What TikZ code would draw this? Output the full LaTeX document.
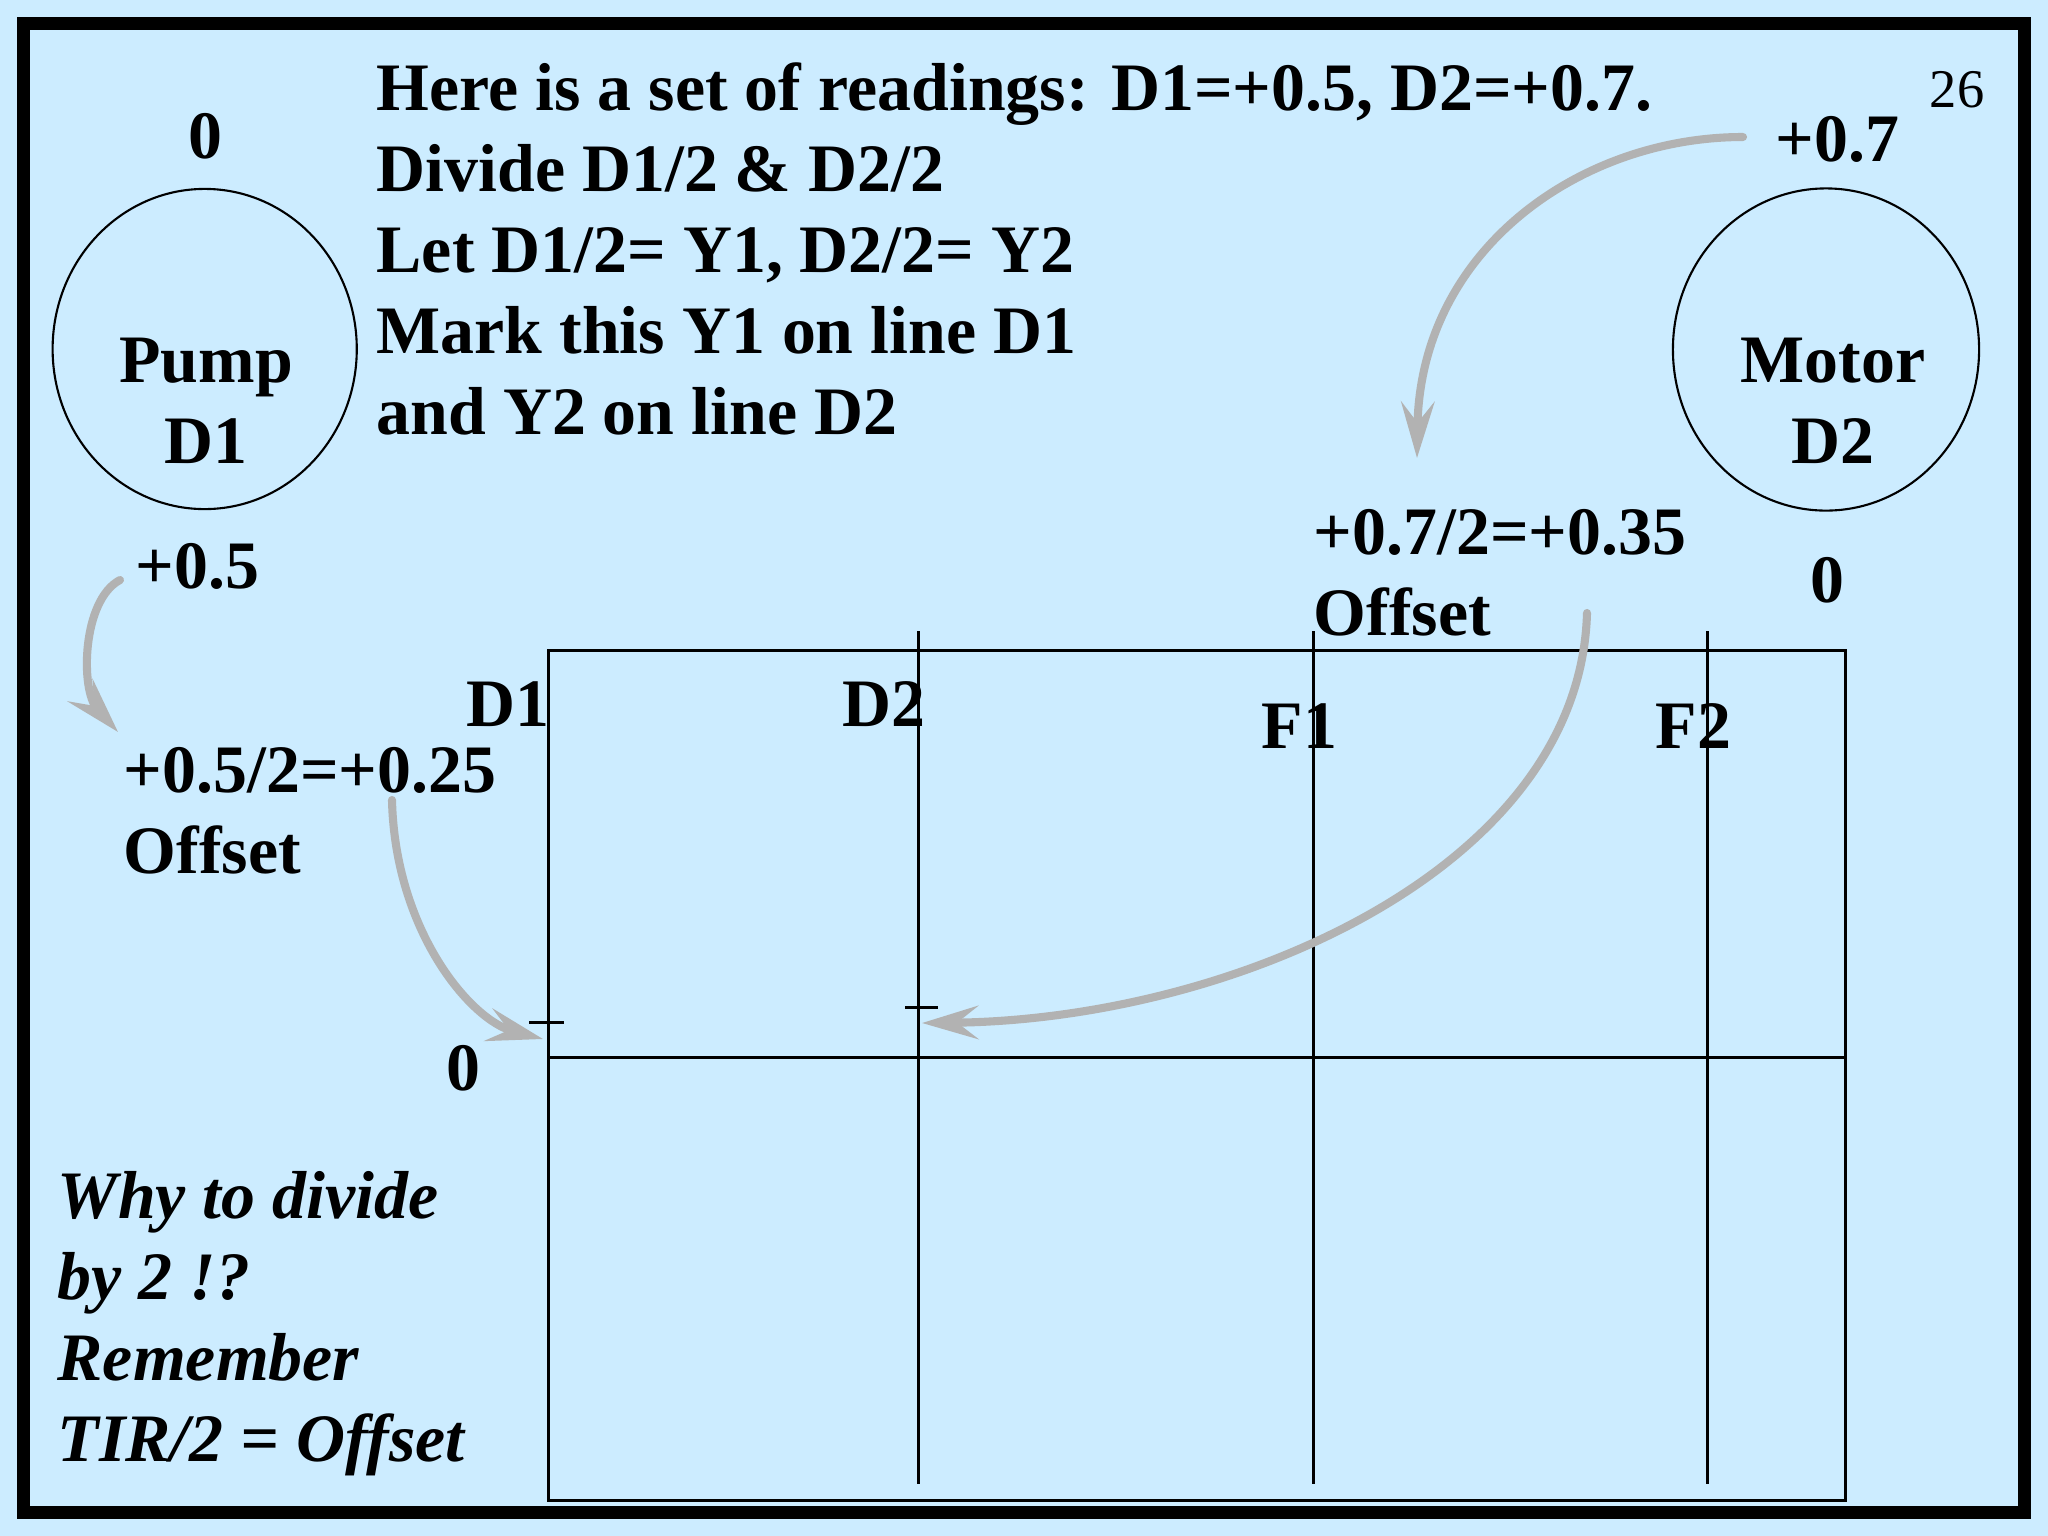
\documentclass[tikz,border=0pt]{standalone}
\usepackage{fontspec}
\setmainfont{Liberation Serif}
\usetikzlibrary{arrows.meta, shapes.geometric}

\definecolor{slideblue}{RGB}{204,236,255}
\definecolor{pointgray}{RGB}{178,178,178}

\tikzset{
  bigtxt/.style={font=\fontsize{19.3}{23}\selectfont\bfseries, inner sep=0pt},
  slanttxt/.style={font=\fontsize{19.3}{23}\selectfont\bfseries\itshape, inner sep=0pt},
  dial/.style={draw, ellipse, line width=0.6pt, inner sep=0pt},
  gridline/.style={line width=0.85pt},
  pointer/.style={draw=pointgray, line width=2.3pt, line cap=round,
    -{Stealth[length=16pt, width=9.5pt, inset=6pt]}}
}

\begin{document}
\begin{tikzpicture}[x=0.01cm, y=-0.01cm]
    \useasboundingbox (0,0) rectangle (2048,1536);
    \fill[slideblue] (0,0) rectangle (2048,1536);
    \draw[line width=0.13cm] (23.5,23.5) rectangle (2024.5,1512.5);

    % the readings (base = last line)
    \node[bigtxt, anchor=base west, align=left] (steps) at (376,434)
        {Here is a set of readings: D1=+0.5, D2=+0.7.\\Divide D1/2 \& D2/2\\Let D1/2= Y1, D2/2= Y2\\Mark this Y1 on line D1\\and Y2 on line D2};
    \node[font=\fontsize{15.5}{18}\selectfont, inner sep=0pt, anchor=base east] (slideno) at (1985,107) {26};

    % pump and motor
    \node[dial, minimum width=3.04cm, minimum height=3.2cm] (pump) at (204.7,349) {};
    \node[dial, minimum width=3.06cm, minimum height=3.22cm] (motor) at (1826,349.5) {};
    \node[bigtxt, align=center, anchor=base] (pumpname) at (206,463) {Pump\\D1};
    \node[bigtxt, align=center, anchor=base] (motorname) at (1833,463) {Motor\\D2};
    \node[bigtxt, anchor=base] (pumptop) at (205,158) {0};
    \node[bigtxt, anchor=base west] (pumpread) at (135,588) {+0.5};
    \node[bigtxt, anchor=base west] (motorread) at (1775,161) {+0.7};
    \node[bigtxt, anchor=base] (motorbot) at (1827,602) {0};

    % halved readings
    \node[bigtxt, anchor=base west, align=left] (halfD1) at (123,873) {+0.5/2=+0.25\\Offset};
    \node[bigtxt, anchor=base west, align=left] (halfD2) at (1313,635) {+0.7/2=+0.35\\Offset};

    % chart
    \draw[gridline] (548.5,650) rectangle (1845,1500);
    \draw[gridline] (548.5,1057) -- (1845,1057);
    \foreach \x in {918,1313,1707}
        \draw[gridline] (\x,631) -- (\x,1484);
    \draw[gridline] (529,1022) -- (564,1022);
    \draw[gridline] (905,1007) -- (938,1007);

    \node[bigtxt, anchor=base east] (colD1) at (550,726) {D1};
    \node[bigtxt, anchor=base west] (colD2) at (842,726) {D2};
    \node[bigtxt, anchor=base west] (colF1) at (1261,748) {F1};
    \node[bigtxt, anchor=base west] (colF2) at (1655,748) {F2};
    \node[bigtxt, anchor=base] (zero) at (463,1090) {0};

    % the question
    \node[slanttxt, anchor=base west, align=left] (why) at (57,1461)
        {Why to divide\\by 2 !?\\Remember\\TIR/2 = Offset};

    % arrows
    \coordinate (fromD2) at (1743,137);
    \coordinate (toHalfD2) at (1417,458);
    \coordinate (fromD1) at (120,580);
    \coordinate (toHalfD1) at (118,732);
    \coordinate (fromHalfD1) at (392,800);
    \coordinate (markY1) at (543,1039);
    \coordinate (fromHalfD2) at (1587,613);
    \coordinate (markY2) at (922,1023);

    \draw[pointer] (fromD2) .. controls (1580,137) and (1420,250) .. (toHalfD2);
    \draw[pointer] (fromD1) .. controls (82,600) and (80,690) .. (toHalfD1);
    \draw[pointer] (fromHalfD1) .. controls (395,930) and (470,1020) .. (markY1);
    \draw[pointer] (fromHalfD2) .. controls (1580,870) and (1230,1020) .. (markY2);
\end{tikzpicture}
\end{document}
